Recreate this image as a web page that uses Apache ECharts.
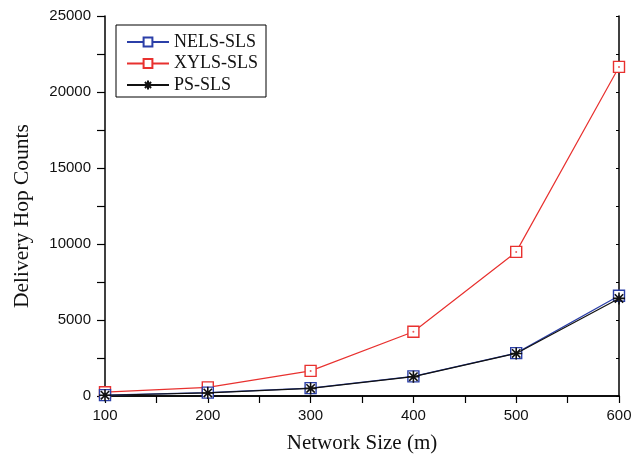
<!DOCTYPE html>
<html>
<head>
<meta charset="utf-8">
<script src="https://cdn.jsdelivr.net/npm/echarts@6/dist/echarts.min.js"></script>
<style>
  html, body { margin: 0; padding: 0; background: #fff; }
  #chart { width: 641px; height: 454px; }
</style>
</head>
<body>
<div id="chart"></div>
<script>
// Network sizes (m) on the x axis
const sizes = [100, 200, 300, 400, 500, 600];
// Delivery hop counts per protocol
const nelsSls = [60, 220, 520, 1290, 2820, 6600];
const xylsSls = [250, 570, 1650, 4230, 9480, 21650];
const psSls = [50, 200, 500, 1270, 2800, 6420];
// Y tick values
const yTicks = [0, 5000, 10000, 15000, 20000, 25000];

const asterisk = 'path://M0,5L10,5M5,0L5,10M1.5,1.5L8.5,8.5M8.5,1.5L1.5,8.5';
const pair = arr => sizes.map((x, i) => [x, arr[i]]);

const serif = 'Liberation Serif';
const sans = 'Liberation Sans';

const chart = echarts.init(document.getElementById('chart'));

function lineSeries(name, data, color, symbol, z) {
  return {
    name: name,
    type: 'line',
    data: pair(data),
    xAxisIndex: 0, yAxisIndex: 0,
    symbol: symbol,
    symbolSize: symbol === 'rect' ? 11 : 12,
    showAllSymbol: true,
    z: z,
    lineStyle: { color: color, width: 1.2 },
    itemStyle: symbol === 'rect'
      ? { color: '#fff', borderColor: color, borderWidth: 1.4 }
      : { color: 'none', borderColor: color, borderWidth: 1.6 },
    emphasis: { disabled: true },
    animation: false
  };
}

function dotSeries(data, color, z) {
  return {
    type: 'scatter',
    data: pair(data),
    symbol: 'circle',
    symbolSize: 2,
    z: z,
    itemStyle: { color: color },
    silent: true,
    animation: false
  };
}

chart.setOption({
  backgroundColor: '#fff',
  grid: {
    left: 105, right: 22, top: 16, bottom: 58,
    containLabel: false, outerBoundsMode: 'none'
  },
  legend: {
    left: 116, top: 25,
    orient: 'vertical',
    backgroundColor: '#fff',
    borderColor: '#000', borderWidth: 1,
    padding: [8, 8, 3, 10],
    itemGap: 3.5,
    itemWidth: 42, itemHeight: 11,
    textStyle: { fontFamily: serif, fontSize: 18, color: '#111' },
    data: ['NELS-SLS', 'XYLS-SLS', 'PS-SLS']
  },
  xAxis: [{
    type: 'value', min: 100, max: 600, interval: 100,
    position: 'bottom',
    name: 'Network Size (m)', nameLocation: 'middle', nameGap: 37,
    nameTextStyle: { fontFamily: serif, fontSize: 21, color: '#111' },
    axisLine: { lineStyle: { color: '#000', width: 1.5 } },
    axisTick: { inside: false, length: 7, lineStyle: { color: '#000', width: 1.2 } },
    minorTick: { show: true, splitNumber: 2, length: 7, lineStyle: { color: '#000', width: 1.2 } },
    axisLabel: { fontFamily: sans, fontSize: 15, color: '#111', margin: 12 },
    splitLine: { show: false }
  }, {
    type: 'value', min: 100, max: 600, interval: 100,
    position: 'top',
    axisLine: { show: true, lineStyle: { color: '#000', width: 1.5 } },
    axisTick: { inside: true, length: 3, lineStyle: { color: '#000' } },
    minorTick: { show: true, splitNumber: 2, length: 3, lineStyle: { color: '#000' } },
    axisLabel: { show: false },
    splitLine: { show: false }
  }],
  yAxis: [{
    type: 'value', min: 0, max: 25000, interval: 5000,
    position: 'left',
    name: 'Delivery Hop Counts', nameLocation: 'middle', nameGap: 72,
    nameTextStyle: { fontFamily: serif, fontSize: 21.5, color: '#111', padding: [0, 20, 0, 0] },
    axisLine: { show: true, lineStyle: { color: '#000', width: 1.5 } },
    axisTick: { show: true, inside: false, length: 8, lineStyle: { color: '#000', width: 1.2 } },
    minorTick: { show: true, splitNumber: 2, length: 8, lineStyle: { color: '#000', width: 1.2 } },
    axisLabel: {
      fontFamily: sans, fontSize: 15, color: '#111', margin: 14,
      formatter: v => yTicks.includes(v) ? String(v) : ''
    },
    splitLine: { show: false }
  }, {
    type: 'value', min: 0, max: 25000, interval: 5000,
    position: 'right',
    axisLine: { show: true, lineStyle: { color: '#000', width: 1.5 } },
    axisTick: { show: true, inside: true, length: 3, lineStyle: { color: '#000' } },
    minorTick: { show: true, splitNumber: 2, length: 3, lineStyle: { color: '#000' } },
    axisLabel: { show: false },
    splitLine: { show: false }
  }],
  series: [
    lineSeries('XYLS-SLS', xylsSls, '#e8312f', 'rect', 3),
    dotSeries(xylsSls, '#e8312f', 4),
    lineSeries('NELS-SLS', nelsSls, '#2b3fa8', 'rect', 5),
    dotSeries(nelsSls, '#2b3fa8', 6),
    lineSeries('PS-SLS', psSls, '#111', asterisk, 7)
  ]
});
</script>
</body>
</html>
